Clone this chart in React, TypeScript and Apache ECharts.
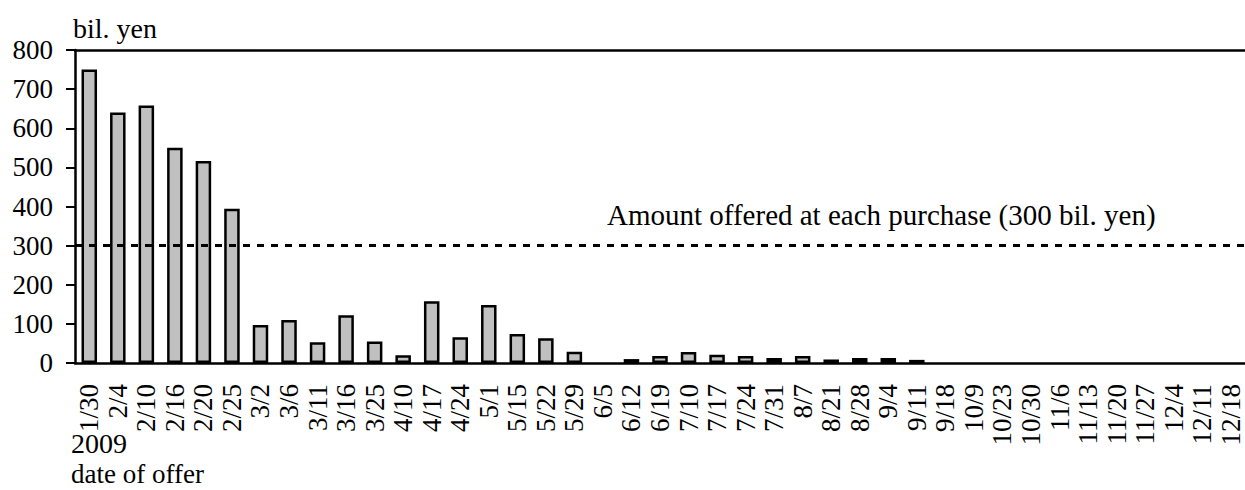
import React, { useEffect, useRef } from "react";
import * as echarts from "echarts";

const categories = [
  "1/30", "2/4", "2/10", "2/16", "2/20", "2/25", "3/2", "3/6", "3/11", "3/16",
  "3/25", "4/10", "4/17", "4/24", "5/1", "5/15", "5/22", "5/29", "6/5", "6/12",
  "6/19", "7/10", "7/17", "7/24", "7/31", "8/7", "8/21", "8/28", "9/4", "9/11",
  "9/18", "10/9", "10/23", "10/30", "11/6", "11/13", "11/20", "11/27", "12/4", "12/11",
  "12/18",
];

// null = no bids shown for that offer date
const bids = [
  750, 640, 658, 550, 516, 394, 97, 110, 53, 122,
  55, 20, 158, 66, 148, 74, 63, 29, null, 10,
  18, 28, 21, 18, 13, 18, 9, 13, 13, 8,
  null, null, null, null, null, null, null, null, null, null,
  null,
];

const offeredAmount = 300;
const yTicks = { min: 0, max: 800, interval: 100 };

const FONT = "'Liberation Serif', 'Times New Roman', serif";

export default function App() {
  const ref = useRef<HTMLDivElement>(null);

  useEffect(() => {
    if (!ref.current) return;
    const chart = echarts.init(ref.current, null, { renderer: "svg" });
    chart.setOption({
      animation: false,
      backgroundColor: "#fff",
      grid: { left: 75, top: 50, width: 1177, height: 313, containLabel: false },
      xAxis: [
        {
          type: "category",
          data: categories,
          position: "bottom",
          axisLine: { show: true, lineStyle: { color: "#000", width: 2.5 } },
          axisTick: { show: false },
          axisLabel: {
            interval: 0,
            rotate: 90,
            margin: 21,
            color: "#000",
            fontFamily: FONT,
            fontSize: 27,
          },
        },
        {
          type: "category",
          data: categories,
          position: "top",
          axisLine: { show: true, lineStyle: { color: "#000", width: 2.5 } },
          axisTick: { show: false },
          axisLabel: { show: false },
        },
      ],
      yAxis: {
        type: "value",
        min: yTicks.min,
        max: yTicks.max,
        interval: yTicks.interval,
        axisLine: { show: true, lineStyle: { color: "#000", width: 2.5 } },
        axisTick: { show: true, inside: false, length: 9, lineStyle: { color: "#000", width: 2 } },
        splitLine: { show: false },
        axisLabel: {
          margin: 22,
          color: "#000",
          fontFamily: FONT,
          fontSize: 27,
        },
      },
      series: [
        {
          type: "bar",
          data: bids,
          barWidth: 15.5,
          itemStyle: { color: "#c0c0c0", borderColor: "#000", borderWidth: 2.5 },
          markLine: {
            silent: true,
            symbol: ["none", "none"],
            label: { show: false },
            lineStyle: { color: "#000", width: 3, type: [7, 7] },
            data: [{ yAxis: offeredAmount }],
          },
        },
      ],
      graphic: [
        {
          type: "text",
          left: 73,
          top: 14,
          style: { text: "bil. yen", fill: "#000", font: `28px ${FONT}` },
        },
        {
          type: "text",
          left: 607,
          top: 200,
          style: {
            text: "Amount offered at each purchase (300 bil. yen)",
            fill: "#000",
            font: `29px ${FONT}`,
          },
        },
        {
          type: "text",
          left: 71,
          top: 429,
          style: { text: "2009", fill: "#000", font: `28px ${FONT}` },
        },
        {
          type: "text",
          left: 71,
          top: 460,
          style: { text: "date of offer", fill: "#000", font: `27px ${FONT}` },
        },
      ],
    });
    return () => chart.dispose();
  }, []);

  return (
    <div
      ref={ref}
      style={{ position: "absolute", left: 0, top: 0, width: 1245, height: 490 }}
    />
  );
}
